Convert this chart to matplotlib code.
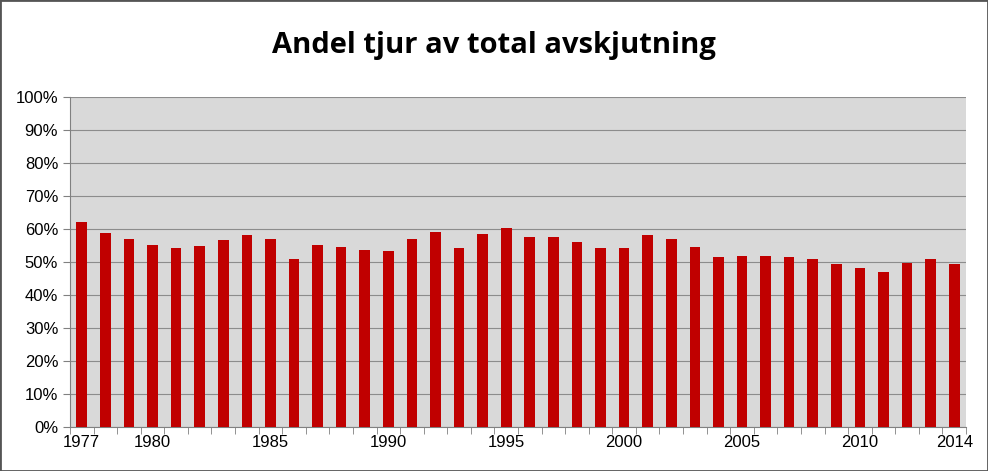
import matplotlib
matplotlib.use("Agg")
import matplotlib.pyplot as plt
from matplotlib.ticker import FixedLocator

years = list(range(1977, 2015))
values = [62.1, 58.8, 57.0, 55.2, 54.2, 54.8, 56.7, 58.2, 57.0, 50.9,
          55.2, 54.5, 53.6, 53.3, 57.0, 59.1, 54.2, 58.5, 60.3, 57.6,
          57.6, 56.0, 54.2, 54.2, 58.2, 57.0, 54.5, 51.5, 51.8, 51.8,
          51.5, 50.9, 49.4, 48.2, 47.0, 49.7, 50.9, 49.4]
tick_years = [1977, 1980, 1985, 1990, 1995, 2000, 2005, 2010, 2014]
title = "Andel tjur av total avskjutning"

plt.rcParams['font.family'] = ['Liberation Sans', 'DejaVu Sans']
fig = plt.figure(figsize=(9.88, 4.71), dpi=100)
fig.patches.append(plt.Rectangle((0, 0), 1, 1, transform=fig.transFigure,
                                 fill=False, edgecolor='#555555', linewidth=2))
ax = fig.add_axes([70/988, 1-427/471, 896/988, 330/471])
ax.set_facecolor('#d9d9d9')
x = list(range(len(years)))
ax.bar(x, values, width=0.45, color='#c00000', zorder=3)
ax.set_xlim(-0.5, len(years)-0.5)
ax.set_ylim(0, 100)
ax.set_yticks(range(0, 101, 10))
ax.set_yticklabels([f"{v}%" for v in range(0, 101, 10)], fontsize=12)
ax.yaxis.grid(True, color='#8c8c8c', linewidth=0.8, zorder=0)
ax.set_xticks([years.index(y) for y in tick_years])
ax.set_xticklabels([str(y) for y in tick_years], fontsize=12)
ax.xaxis.set_minor_locator(FixedLocator([i + 0.5 for i in range(-1, len(years))]))
ax.tick_params(axis='x', which='major', length=0, pad=6)
ax.tick_params(axis='x', which='minor', length=5, color='#808080')
ax.tick_params(axis='y', length=5, color='#808080')
for s in ['top', 'right']:
    ax.spines[s].set_visible(False)
for s in ['left', 'bottom']:
    ax.spines[s].set_color('#808080')
fig.text(0.5, 1-45/471, title, ha='center', va='center', fontsize=21,
         fontweight='bold', family=['Open Sans', 'DejaVu Sans'])
fig.savefig("out.png", dpi=100)
